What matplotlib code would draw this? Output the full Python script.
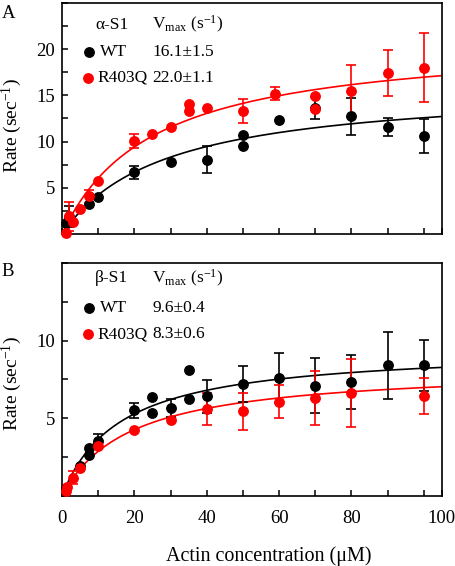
import matplotlib
matplotlib.use("Agg")
import matplotlib.pyplot as plt
import numpy as np
from matplotlib.ticker import MultipleLocator, FixedLocator

plt.rcParams['font.family'] = ['Liberation Serif', 'DejaVu Serif']
plt.rcParams['mathtext.fontset'] = 'custom'
plt.rcParams['mathtext.rm'] = 'Liberation Serif'
plt.rcParams['mathtext.it'] = 'Liberation Serif:italic'

# ---- panel A: alpha-S1 ----
a_wt_x = [1, 2, 7.5, 10, 20, 30, 40, 50, 50, 60, 70, 80, 90, 100]
a_wt_y = [1.2, 1.9, 3.3, 4.0, 6.7, 7.8, 8.05, 10.7, 9.55, 12.35, 13.6, 12.75, 11.6, 10.6]
a_wt_e = [0, 1.1, 0, 0, 0.7, 0, 1.45, 0, 0, 0, 1.2, 2.0, 0.95, 1.8]

a_mut_x = [1, 2, 3, 5, 7.5, 10, 20, 25, 30, 35, 35, 40, 50, 59, 70, 70, 80, 90, 100]
a_mut_y = [0.1, 1.95, 1.35, 2.75, 4.1, 5.75, 10.1, 10.8, 11.6, 14.1, 13.35, 13.6, 13.3, 15.15, 14.9, 13.55, 15.45, 17.4, 18.0]
a_mut_e = [0, 1.55, 0, 0, 0.7, 0, 0.75, 0, 0, 0, 0, 0, 1.25, 0.7, 0, 0, 2.8, 2.5, 3.7]

# ---- panel B: beta-S1 ----
b_wt_x = [1, 5, 7.5, 7.5, 10, 20, 25, 25, 30, 35, 35, 40, 50, 60, 70, 80, 90, 100]
b_wt_y = [0.47, 1.9, 3.05, 2.62, 3.55, 5.5, 6.35, 5.36, 5.65, 8.1, 6.22, 6.4, 7.2, 7.58, 7.1, 7.35, 8.4, 8.4]
b_wt_e = [0, 0, 0, 0, 0.42, 0.47, 0, 0, 0.6, 0, 0, 1.07, 1.15, 1.6, 1.77, 1.75, 2.18, 1.67]

b_mut_x = [1, 1.5, 3, 5, 10, 20, 30, 40, 50, 60, 70, 80, 100]
b_mut_y = [0.3, 0.55, 1.15, 1.78, 3.2, 4.25, 4.9, 5.6, 5.45, 6.07, 6.3, 6.6, 6.4]
b_mut_e = [0, 0, 0.42, 0, 0, 0, 0, 1.05, 1.2, 1.07, 1.77, 2.2, 1.16]

# hyperbolic fits (Vmax, Km) as drawn
fit_a_wt = (16.1, 28.0)
fit_a_mut = (21.2, 25.0)
fit_b_wt = (9.55, 16.2)
fit_b_mut = (8.3, 19.0)

leg_a = ['\u03b1-S1', 'WT', 'R403Q', '16.1\u00b11.5', '22.0\u00b11.1']
leg_b = ['\u03b2-S1', 'WT', 'R403Q', '9.6\u00b10.4', '8.3\u00b10.6']

RED = '#ff0000'

fig = plt.figure(figsize=(4.56, 5.66), dpi=100)
axA = fig.add_axes([0.136, 0.5862, 0.833, 0.409])
axB = fig.add_axes([0.136, 0.1242, 0.833, 0.411])


def draw(ax, x, y, e, fit, col):
    x = np.array(x); y = np.array(y); e = np.array(e)
    xx = np.linspace(0, 105, 300)
    ax.plot(xx, fit[0] * xx / (fit[1] + xx), color=col, lw=1.2, zorder=2)
    m = e > 0
    ax.errorbar(x[m], y[m], yerr=e[m], fmt='none', ecolor=col, elinewidth=1.2,
                capsize=3.6, capthick=1.2, zorder=3)
    ax.plot(x, y, 'o', color=col, markersize=6.8, zorder=4, clip_on=False)


def legend(ax, labels, ys):
    ax.text(0.087, ys[0], labels[0], transform=ax.transAxes, fontsize=12.5, va='center')
    ax.text(0.237, ys[0], r'V$_{\mathrm{max}}$ (s$^{-1}$)', transform=ax.transAxes,
            fontsize=12.5, va='center')
    ax.plot([0.072], [ys[1]], 'o', color='black', markersize=6.8, transform=ax.transAxes)
    ax.plot([0.069], [ys[2]], 'o', color=RED, markersize=6.8, transform=ax.transAxes)
    ax.text(0.10, ys[1], labels[1], transform=ax.transAxes, fontsize=12.5, va='center')
    ax.text(0.094, ys[2], labels[2], transform=ax.transAxes, fontsize=12.5, va='center')
    ax.text(0.237, ys[1], labels[3], transform=ax.transAxes, fontsize=12.5, va='center')
    ax.text(0.237, ys[2], labels[4], transform=ax.transAxes, fontsize=12.5, va='center')


draw(axA, a_wt_x, a_wt_y, a_wt_e, fit_a_wt, 'black')
draw(axA, a_mut_x, a_mut_y, a_mut_e, fit_a_mut, RED)
draw(axB, b_wt_x, b_wt_y, b_wt_e, fit_b_wt, 'black')
draw(axB, b_mut_x, b_mut_y, b_mut_e, fit_b_mut, RED)

legend(axA, leg_a, [0.904, 0.788, 0.676])
legend(axB, leg_b, [0.935, 0.807, 0.695])

for ax, ytop, ylab in [(axA, 25, [5, 10, 15, 20]), (axB, 15, [5, 10])]:
    ax.set_xlim(0, 105)
    ax.set_ylim(0, ytop)
    ax.yaxis.set_major_locator(FixedLocator(ylab))
    ax.yaxis.set_minor_locator(MultipleLocator(2.5))
    ax.xaxis.set_major_locator(FixedLocator([0, 20, 40, 60, 80, 105]))
    ax.xaxis.set_minor_locator(FixedLocator([10, 20, 30, 40, 50, 60, 70, 80, 90, 100]))
    ax.tick_params(which='both', direction='in', length=4, width=1.1,
                   top=False, right=False, labelsize=13.5)
    ax.tick_params(axis='y', pad=5)
    ax.tick_params(axis='x', pad=10)
    for s in ax.spines.values():
        s.set_linewidth(1.2)

axA.set_xticklabels([])
axB.set_xticklabels(['0', '20', '40', '60', '80', '100'])

# y labels placed as figure text so they sit at the far left like the original
fig.text(0.025, 0.779, r'Rate (sec$^{-1}$)', fontsize=14, rotation=90, ha='center', va='center')
fig.text(0.025, 0.323, r'Rate (sec$^{-1}$)', fontsize=14, rotation=90, ha='center', va='center')
fig.text(0.59, 0.017, 'Actin concentration (\u03bcM)', fontsize=14.5, ha='center', va='center')
fig.text(0.004, 0.992, 'A', fontsize=13.5, ha='left', va='top')
fig.text(0.004, 0.535, 'B', fontsize=13.5, ha='left', va='top')

plt.savefig('out.png', dpi=100)
